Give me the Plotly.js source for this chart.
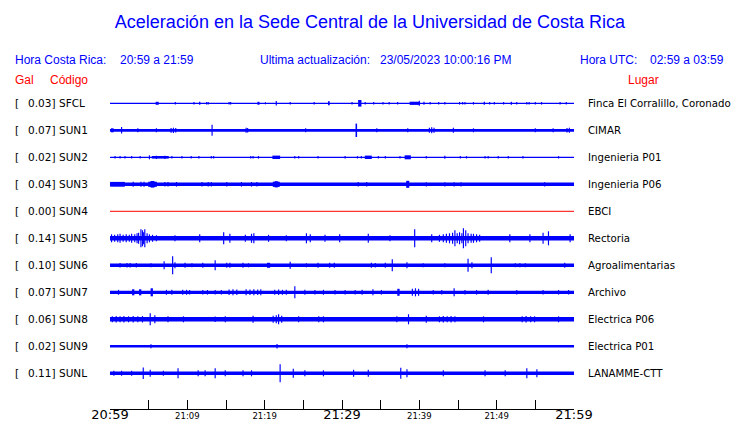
<!DOCTYPE html>
<html>
<head>
<meta charset="utf-8">
<script src="https://cdn.plot.ly/plotly-3.0.1.min.js"></script>
<style>html,body{margin:0;padding:0;background:#fff;}#chart{width:740px;height:423px;}</style>
</head>
<body>
<div id="chart"></div>
<script>
// ---- data ----
const stations = ['SFCL','SUN1','SUN2','SUN3','SUN4','SUN5','SUN6','SUN7','SUN8','SUN9','SUNL'];
const peaks = [0.03,0.07,0.02,0.04,0.00,0.14,0.10,0.07,0.06,0.02,0.11];
const places = ['Finca El Corralillo, Coronado','CIMAR','Ingenieria P01','Ingenieria P06','EBCI','Rectoria','Agroalimentarias','Archivo','Electrica P06','Electrica P01','LANAMME-CTT'];
const timeRange = [0, 60];            // minutes after 20:59
const tickMinutes = [0,5,10,15,20,25,30,35,40,45,50,55,60];
const bigTickLabels = {0:'20:59', 30:'21:29', 60:'21:59'};
const smallTickLabels = {10:'21:09', 20:'21:19', 40:'21:39', 50:'21:49'};
// background noise level per station (relative amplitude)
const noise = [0.6,1.4,0.6,1.7,0.5,2.3,1.8,1.6,2.2,1.2,1.8];
// events: [minute, relative half-amplitude, duration in minutes (optional)]
const evSFCL = [[6.1,1.5,0.39],[8.45,1.3],[10.86,1.3],[11.6,1.5,0.17],[12.5,1.3],[12.7,1.3],[15.4,1.3],[15.6,1.3],[19.2,1.5,0.26],[20.1,1.0],[21.5,2.3],[23.3,1.2],[26.4,1.2],[28.3,2,0.22],[31.3,1.2],[32.3,3.3,0.43],[33.0,1.3],[34.1,1.3],[35.3,1.3],[36.1,1.3],[37.2,1.3],[39.4,1.6,1.3],[40.0,2.5],[40.6,1.5],[41.4,1.3],[42.5,1.3],[43.3,1.3],[45.2,1.3],[45.6,1.3],[45.9,1.3],[47.0,1.3],[48.4,1.5,0.17],[49.1,1.3],[49.7,1.3],[50.9,1.3],[51.9,1.5,0.17],[52.6,1.3],[53.9,1.3],[54.2,1.3],[55.0,1.3],[55.8,1.3],[58.2,1.3],[59.0,1.3]];
const evSUN1 = [[0.3,2,0.35],[1.5,3.3],[3.6,2],[6.0,2],[7.9,2.4],[8.2,2.6],[8.5,2.3],[13.2,5.5],[17.6,2.5],[17.8,2.3],[25.3,2],[31.85,6.7,0.2],[34.5,2],[38.5,2],[41.3,2.5],[41.6,3],[41.9,2.5],[44.4,2.5],[47.0,2],[55.0,2],[57.3,2],[59.1,2.3],[59.4,2.5]];
const evSUN2 = [[0.65,1.3],[1.3,1.2],[1.94,1.2],[2.8,1.3],[3.9,1.3],[5.1,2],[6.5,1.3,2.2],[6.0,1.6],[7.1,1.6],[8.0,1.3],[9.3,1.2],[10.5,1.2],[11.5,1.2],[13.1,1.3],[13.4,1.3],[18.2,1.3],[18.5,1.3],[19.2,1.3],[21.5,1.7,1.0],[23.9,1.3],[24.4,1.3],[26.9,1.2],[30.4,1.2],[32.0,1.2],[32.5,1.3],[33.4,1.7,0.9],[34.7,1.2],[35.6,1.2],[37.5,1.2],[38.5,2,0.8],[40.9,1.3],[43.3,1.5],[45.3,1.2],[46.1,1.2],[48.5,1.3],[48.9,1.3],[50.2,1.2],[51.5,1.2],[53.4,1.3],[58.0,1.2]];
const evSUN3 = [[0.97,2.4,1.9],[3.0,2.5],[4.0,2.5],[4.4,2.5],[5.5,2.6,1.1],[5.5,3.3,0.5],[7.1,2.3],[7.5,2.3],[8.6,2.3],[11.9,2.3],[12.7,2.3],[13.1,2.3],[15.1,2.3],[17.0,2.3],[18.3,2.3],[19.0,2.3],[21.5,2.6,0.9],[21.5,3.1,0.4],[32.1,2.3],[33.2,2.3],[38.5,3.5,0.4],[40.9,2.1],[43.3,2.1],[44.5,2.1],[45.4,2.1],[56.2,2.1]];
const evSUN4 = [];
const evSUN5 = [[0.2,4],[0.6,3.5],[1.0,4],[1.3,4.5],[1.7,3.5],[2.1,4],[2.5,3.5],[2.8,4.5],[3.2,4],[3.5,5],[3.7,5.5],[4.0,9],[4.2,8],[4.35,6],[4.5,9],[4.8,5],[5.1,4],[5.5,3.5],[6.0,3],[8.4,3],[11.6,4],[14.7,6],[15.5,4.5],[17.5,3.5],[18.3,4.5],[18.6,5],[20.5,3.5],[22.8,3],[25.4,5],[25.9,4],[27.8,3.5],[29.7,4],[33.4,4.5],[36.2,3],[39.4,9],[41.6,4],[42.6,3.5],[43.1,4],[43.5,4.5],[43.9,5],[44.3,5.5],[44.6,8],[44.9,5],[45.2,6],[45.5,5],[45.7,10],[46.0,8],[46.3,5],[46.7,4.5],[47.0,4.5],[47.4,4],[47.8,3.5],[51.7,4],[54.3,4],[56.0,5.5],[56.7,7],[59.5,4]];
const evSUN6 = [[1.3,2.3],[2.2,2.3],[2.6,2.3],[3.4,2.3],[5.3,2],[7.0,4],[8.1,9],[8.4,3],[9.7,2.5],[10.6,2],[12.0,2.5],[13.6,5],[15.1,2.5],[15.5,2.5],[17.2,2.5],[17.9,2],[20.5,2.5,0.4],[23.3,3.5],[25.4,2],[26.9,2.5],[28.4,2.5],[29.0,2.5],[33.8,2.5],[34.3,2.3],[35.6,2.5],[36.5,6],[38.4,3],[40.5,2],[43.3,2],[46.3,6.5],[46.8,3],[49.3,8],[52.4,2],[53.0,2],[53.7,2],[58.8,2.5]];
const evSUN7 = [[1.1,2.5],[3.0,3,0.3],[3.9,3,0.3],[5.4,4,0.3],[7.3,2.5],[8.0,2.5],[9.4,2.5],[9.9,2.5],[10.3,2.3],[12.0,2.3],[12.6,2.3],[13.6,2.3],[14.4,2.3],[15.4,2.8],[15.9,3],[16.4,2.8],[17.6,3],[18.1,2.8],[18.6,3],[19.1,2.8],[19.5,3],[21.3,2.5],[21.8,2.8],[22.3,2.5],[22.8,2.5],[23.9,6],[25.2,2.5],[26.5,2.3],[27.6,2.5],[29.1,2.3],[30.4,2.3],[31.7,2.3],[32.6,2.5],[34.0,3],[35.1,2.3],[37.3,3.5,0.3],[39.1,3.5],[39.5,4],[39.9,3.5],[41.8,2.3],[42.9,2.3],[44.5,4],[45.9,2.3],[47.4,2.3],[48.9,2.5],[52.6,2.3],[56.0,2.3],[58.0,2.3],[59.3,2.3]];
const evSUN8 = [[0.3,3],[0.8,3.2],[1.3,3],[1.8,3.3],[2.4,3],[3.0,3.2],[3.6,3],[4.2,3.2],[5.2,6],[5.8,4],[7.5,3],[9.5,3],[13.6,2.8],[14.9,3],[18.5,3.5],[21.1,3.5],[21.5,4],[21.8,5],[22.2,3.5],[24.4,3],[27.0,3],[27.6,3],[37.1,3],[38.6,5],[40.9,3.5],[42.6,3],[43.1,3.2],[43.6,3],[44.1,3.2],[44.6,3],[48.3,3],[53.3,3],[53.8,3.2],[54.4,3],[54.9,3],[58.0,3]];
const evSUN9 = [[5.3,2],[21.6,2.3],[38.4,2]];
const evSUNL = [[0.5,2.5],[1.5,2.5],[2.8,2.5],[4.3,5.7],[5.2,3.5],[6.9,2.5],[8.8,5],[11.4,3],[12.3,3],[13.6,5],[14.9,3],[17.2,3],[18.3,3],[22.0,9],[23.7,4.5],[25.2,3],[27.6,3],[31.5,3.5],[33.4,3.5],[37.6,5.5],[38.4,4],[43.1,3],[48.5,3],[51.1,3],[53.9,5],[55.2,4]];
const events = [evSFCL,evSUN1,evSUN2,evSUN3,evSUN4,evSUN5,evSUN6,evSUN7,evSUN8,evSUN9,evSUNL];

// ---- layout constants ----
const W = 740, H = 423;
const L = 110, R = 574, T = 88, B = 409;
const rowPx = 27;
const firstRowPx = 103.3;
const nRows = stations.length;
const yMinV = -((B - (firstRowPx + (nRows-1)*rowPx)) / rowPx);
const yMaxV = yMinV + (B - T) / rowPx;
const S = 1 / rowPx; // relative amplitude unit -> row units
const DEFAULT_W = 0.15;

const traces = [];
stations.forEach((st, i) => {
  const row = nRows - 1 - i;
  const color = peaks[i] === 0 ? '#ff0000' : '#0000ff';
  traces.push({
    type: 'scatter', mode: 'lines', x: timeRange, y: [row, row],
    line: {color: color, width: Math.max(1, 2 * noise[i])},
    hoverinfo: 'skip', showlegend: false,
    xaxis: i === 4 ? 'x2' : 'x'
  });
  const ev = events[i];
  if (ev.length) {
    traces.push({
      type: 'bar', x: ev.map(e => e[0]), width: ev.map(e => e[2] || DEFAULT_W),
      base: ev.map(e => row - e[1] * S), y: ev.map(e => 2 * e[1] * S),
      marker: {color: color, line: {width: 0}}, hoverinfo: 'skip', showlegend: false
    });
  }
});

const px2x = p => (p - L) / (R - L);
const px2y = p => (B - p) / (B - T);
const ann = [];
const blue = '#0000ff', red = '#ff0000';
const hdrFont = (c) => ({family: 'Liberation Sans, Arial, sans-serif', size: 12, color: c});
function addText(text, xp, yp, anchor, font) {
  ann.push({text: text, xref: 'paper', yref: 'paper', x: px2x(xp), y: px2y(yp),
    xanchor: anchor, yanchor: 'middle', showarrow: false, font: font, borderpad: 0, borderwidth: 0});
}
addText('Hora Costa Rica:', 15, 60, 'left', hdrFont(blue));
addText('20:59 a 21:59', 120, 60, 'left', hdrFont(blue));
addText('Ultima actualización:', 260, 60, 'left', hdrFont(blue));
addText('23/05/2023 10:00:16 PM', 380, 60, 'left', hdrFont(blue));
addText('Hora UTC:', 580, 60, 'left', hdrFont(blue));
addText('02:59 a 03:59', 650, 60, 'left', hdrFont(blue));
addText('Gal', 15, 80, 'left', hdrFont(red));
addText('Código', 50, 80, 'left', hdrFont(red));
addText('Lugar', 628, 80, 'left', hdrFont(red));

const lblFont = {family: 'DejaVu Sans, sans-serif', size: 10.5, color: '#000'};
const placeFont = {family: 'DejaVu Sans, sans-serif', size: 10.2, color: '#000'};
stations.forEach((st, i) => {
  const yp = firstRowPx + i * rowPx;
  addText('[', 15, yp, 'left', lblFont);
  addText(peaks[i].toFixed(2) + ']', 54.5, yp, 'right', lblFont);
  addText(st, 59, yp, 'left', lblFont);
  addText(places[i], 587.5, yp, 'left', placeFont);
});

const bigText = tickMinutes.map(m => bigTickLabels[m] || '');
const smallVals = Object.keys(smallTickLabels).map(Number);
const smallText = smallVals.map(m => smallTickLabels[m]);

const layout = {
  width: W, height: H,
  margin: {l: L, r: W - R, t: T, b: H - B, pad: 0},
  paper_bgcolor: '#fff', plot_bgcolor: '#fff',
  title: {text: 'Aceleración en la Sede Central de la Universidad de Costa Rica',
    font: {family: 'Liberation Sans, Arial, sans-serif', size: 18, color: blue},
    x: 0.5, xref: 'container', y: 1 - 21.5 / H, yref: 'container', xanchor: 'center', yanchor: 'middle'},
  barmode: 'overlay',
  showlegend: false,
  xaxis: {range: timeRange, tickmode: 'array', tickvals: tickMinutes, ticktext: bigText,
    ticks: 'inside', ticklen: 9, tickwidth: 1, tickcolor: '#000', ticklabelstandoff: -7,
    showline: true, linecolor: '#000', linewidth: 1, showgrid: false, zeroline: false,
    tickfont: {family: 'DejaVu Sans, sans-serif', size: 13, color: '#000'},
    fixedrange: true, automargin: false},
  xaxis2: {range: timeRange, overlaying: 'x', side: 'bottom', anchor: 'y', tickmode: 'array',
    tickvals: smallVals, ticktext: smallText, ticks: '', showline: false, showgrid: false, zeroline: false,
    tickfont: {family: 'DejaVu Sans, sans-serif', size: 8.5, color: '#000'}, automargin: false},
  yaxis: {range: [yMinV, yMaxV], visible: false, fixedrange: true},
  annotations: ann
};
Plotly.newPlot('chart', traces, layout, {displayModeBar: false, staticPlot: true});
</script>
</body>
</html>
